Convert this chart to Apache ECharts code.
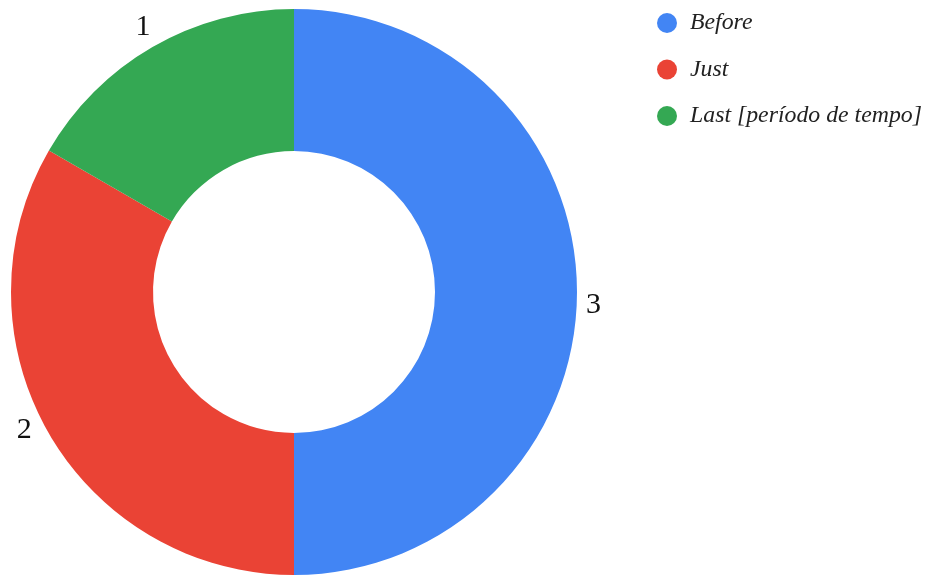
<!DOCTYPE html>
<html>
<head>
<meta charset="utf-8">
<script src="https://cdn.jsdelivr.net/npm/echarts@6/dist/echarts.min.js"></script>
<style>
  html, body { margin: 0; padding: 0; background: #fff; }
  #chart { width: 928px; height: 576px; }
</style>
</head>
<body>
<div id="chart"></div>
<script>
// Donut data: one slice per category
const categories = ['Before', 'Just', 'Last [período de tempo]'];
const values = [3, 2, 1];
const colors = ['#4285f4', '#ea4335', '#34a853'];

// Small nudges for the value labels around the ring
const labelNudge = [[-10, 13], [0, -10], [10, -8]];

const chart = echarts.init(document.getElementById('chart'), null, { renderer: 'canvas' });

const serif = '"Liberation Serif", "Times New Roman", serif';

chart.setOption({
  animation: false,
  backgroundColor: '#ffffff',
  color: colors,
  legend: {
    orient: 'vertical',
    left: 652,
    top: 6,
    icon: 'circle',
    itemWidth: 20,
    itemHeight: 20,
    itemGap: 22.5,
    data: categories,
    textStyle: {
      fontFamily: serif,
      fontStyle: 'italic',
      fontSize: 23.8,
      color: '#222',
      lineHeight: 20,
      padding: [0, 0, 0, 8]
    }
  },
  series: [{
    type: 'pie',
    center: [294, 292],
    radius: [141, 283],
    startAngle: 90,
    clockwise: true,
    avoidLabelOverlap: false,
    label: {
      show: true,
      position: 'outside',
      formatter: '{c}',
      fontFamily: serif,
      fontSize: 30,
      color: '#111'
    },
    labelLine: { show: false, length: 14, length2: 0 },
    labelLayout: function (params) {
      const n = labelNudge[params.dataIndex];
      return { dx: n[0], dy: n[1] };
    },
    emphasis: { disabled: true },
    data: categories.map((name, i) => ({ name, value: values[i] }))
  }]
});
</script>
</body>
</html>
